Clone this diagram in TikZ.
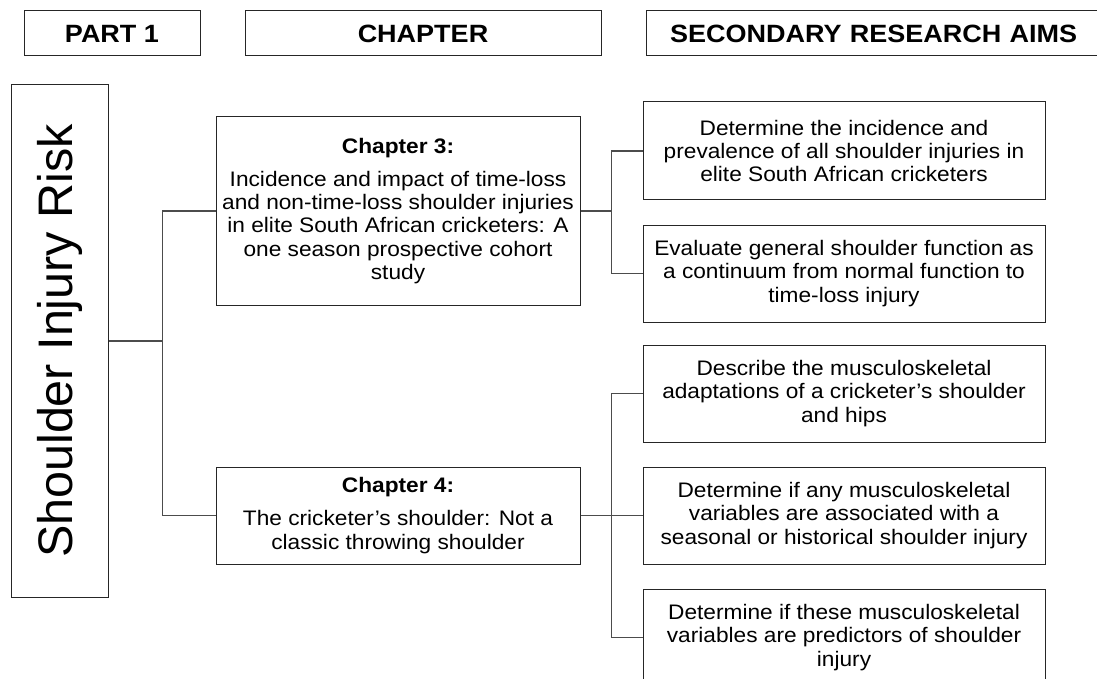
\documentclass[tikz,border=0pt]{standalone}
\usepackage{fontspec}
\setmainfont{Liberation Sans}[FakeStretch=1.08]
\newfontfamily\riskfont{Liberation Sans}
\tikzset{
	hdr/.style={draw=black!85,line width=1pt,minimum height=45pt,inner sep=0pt,
		font=\bfseries\fontsize{25}{28}\selectfont},
	chapbox/.style={draw=black!85,line width=1pt,minimum width=364pt,align=center,
		inner sep=0pt,font=\fontsize{21}{23.3}\selectfont},
	aimbox/.style={draw=black!85,line width=1pt,minimum width=402pt,minimum height=97pt,
		align=center,inner sep=0pt,font=\fontsize{21}{23.3}\selectfont},
	link/.style={draw=black!70,line width=1.1pt}
}
\begin{document}
\begin{tikzpicture}[x=1pt,y=-1pt]
	\fill[white] (0,0) rectangle (1097,679);
	\useasboundingbox (0,0) rectangle (1097,679);
	\node[hdr,minimum width=176pt] (parthdr) at (112,33.5) {PART 1};
	\node[hdr,minimum width=356pt] (chaphdr) at (423,33.5) {CHAPTER};
	\node[hdr,minimum width=470pt,text width=450pt,align=left] (aimhdr) at (881,33.5)
		{\hspace{14pt}SECONDARY RESEARCH AIMS};
	\node[draw=black!85,line width=1pt,minimum width=97pt,minimum height=512pt] (risk) at (59.5,341) {};
	\node[rotate=90,font=\riskfont\fontsize{48.5}{50}\selectfont] (risktxt) at (risk.center) {Shoulder Injury Risk};
	\node[chapbox,minimum height=188pt] (ch3) at (398,211)
		{\textbf{Chapter 3:}\\[9.7pt]
		Incidence and impact of time-loss\\
		and non-time-loss shoulder injuries\\
		in elite South African cricketers: A\\
		one season prospective cohort\\
		study};
	\node[chapbox,minimum height=97pt] (ch4) at (398,515.5)
		{\textbf{Chapter 4:}\\[9.7pt]
		The cricketer’s shoulder: Not a\\
		classic throwing shoulder};
	\node[aimbox,minimum height=98pt] (aim1) at (844,151)
		{Determine the incidence and\\
		prevalence of all shoulder injuries in\\
		elite South African cricketers};
	\node[aimbox] (aim2) at (844,273.5)
		{Evaluate general shoulder function as\\
		a continuum from normal function to\\
		time-loss injury};
	\node[aimbox] (aim3) at (844,393.5)
		{Describe the musculoskeletal\\
		adaptations of a cricketer’s shoulder\\
		and hips};
	\node[aimbox] (aim4) at (844,515.5)
		{Determine if any musculoskeletal\\
		variables are associated with a\\
		seasonal or historical shoulder injury};
	\node[aimbox] (aim5) at (844,637.5)
		{Determine if these musculoskeletal\\
		variables are predictors of shoulder\\
		injury};
	\draw[link] (risk.east) -- ++(54,0) |- (ch3.west);
	\draw[link] (risk.east) -- ++(54,0) |- (ch4.west);
	\draw[link] (ch3.east) -- ++(31,0) |- (aim1.west);
	\draw[link] (ch3.east) -- ++(31,0) |- (aim2.west);
	\draw[link] (ch4.east) -- ++(31,0) |- (aim3.west);
	\draw[link] (ch4.east) -- (aim4.west);
	\draw[link] (ch4.east) -- ++(31,0) |- (aim5.west);
\end{tikzpicture}
\end{document}
